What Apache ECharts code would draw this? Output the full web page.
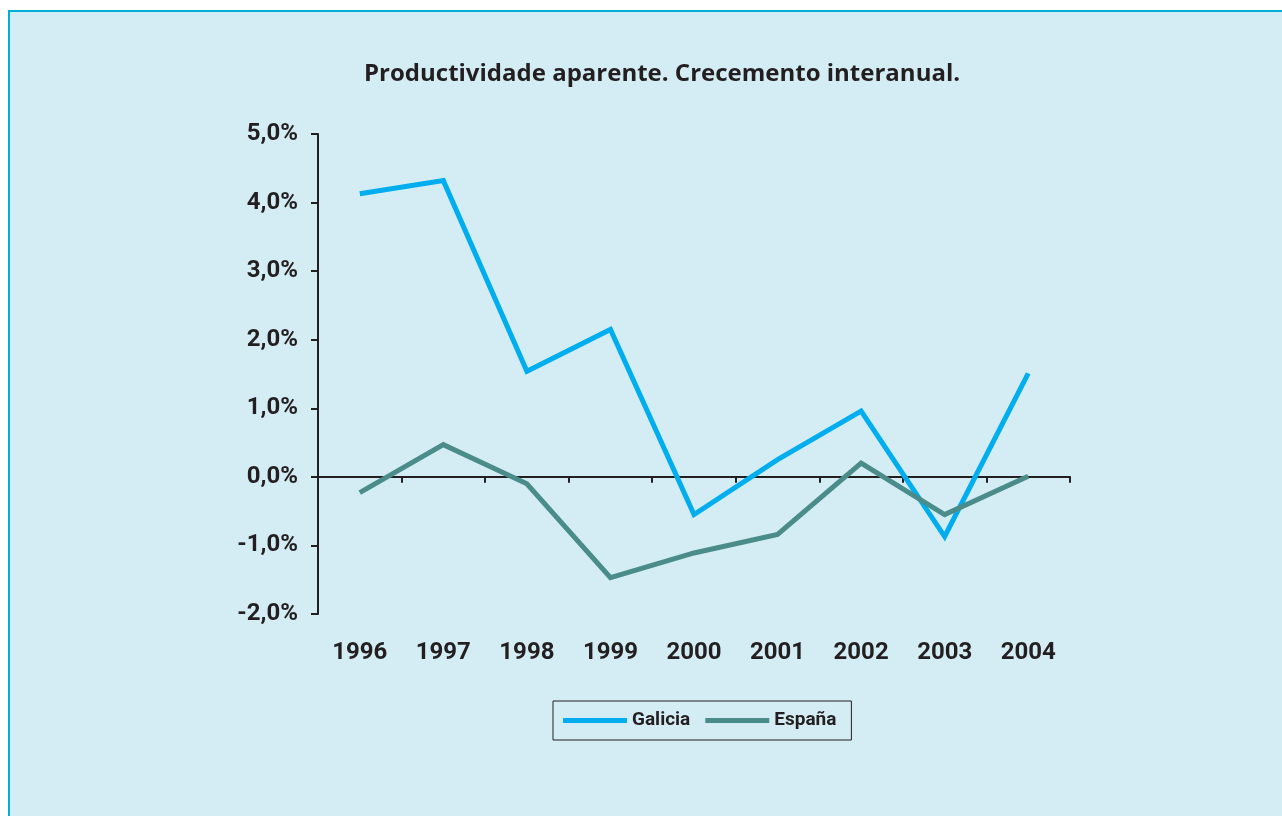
<!DOCTYPE html>
<html>
<head>
<meta charset="utf-8">
<script src="https://cdn.jsdelivr.net/npm/echarts@6/dist/echarts.min.js"></script>
<style>
html,body{margin:0;padding:0;background:#fff;}
#panel{position:absolute;left:8px;top:10px;width:1274px;height:806px;background:#d4edf4;border-top:2px solid #00aed6;border-left:2px solid #00aed6;box-sizing:border-box;}
#main{position:absolute;left:0;top:0;width:1282px;height:816px;}
</style>
</head>
<body>
<div id="panel"></div>
<div id="main"></div>
<script>
// datos
var years = ['1996','1997','1998','1999','2000','2001','2002','2003','2004'];
var galicia = [4.13, 4.32, 1.54, 2.15, -0.55, 0.25, 0.96, -0.87, 1.51];
var espana = [-0.23, 0.47, -0.10, -1.47, -1.11, -0.84, 0.20, -0.55, 0.01];

var fontFam = 'Roboto, "DejaVu Sans", sans-serif';
var dark = '#231f20';

var myChart = echarts.init(document.getElementById('main'));
var option = {
    backgroundColor: 'transparent',
    animation: false,
    title: {
        text: 'Productividade aparente. Crecemento interanual.',
        left: 359,
        top: 57,
        textStyle: { color: dark, fontSize: 24, fontWeight: 'bold', fontFamily: '"Open Sans", sans-serif' }
    },
    grid: { left: 318, right: 212, top: 134, bottom: 202 },
    legend: {
        left: 553,
        top: 701,
        padding: [10, 15, 10, 10],
        borderColor: dark,
        borderWidth: 1,
        itemWidth: 64,
        itemHeight: 5,
        itemGap: 15,
        icon: 'rect',
        textStyle: { color: dark, fontSize: 19, fontWeight: 'bold', fontFamily: fontFam },
        data: ['Galicia', 'España']
    },
    xAxis: [
        {
            type: 'category',
            data: years,
            axisLine: { show: false, onZero: false },
            axisTick: { show: false },
            axisLabel: { color: dark, fontSize: 24, fontWeight: 'bold', fontFamily: fontFam, margin: 27, interval: 0 }
        },
        {
            type: 'category',
            data: years,
            position: 'bottom',
            axisLine: { show: true, onZero: true, lineStyle: { color: dark, width: 2 } },
            axisTick: { show: true, length: 6, lineStyle: { color: dark, width: 2 } },
            axisLabel: { show: false }
        }
    ],
    yAxis: {
        type: 'value',
        min: -2,
        max: 5,
        interval: 1,
        splitLine: { show: false },
        axisLine: { show: true, onZero: false, lineStyle: { color: dark, width: 2 } },
        axisTick: { show: true, length: 7, lineStyle: { color: dark, width: 2 } },
        axisLabel: {
            color: dark, fontSize: 24, fontWeight: 'bold', fontFamily: fontFam, margin: 20,
            formatter: function (v) { return v.toFixed(1).replace('.', ',') + '%'; }
        }
    },
    series: [
        {
            name: 'Galicia',
            type: 'line',
            data: galicia,
            symbol: 'none',
            itemStyle: { color: '#00aeef' },
            lineStyle: { color: '#00aeef', width: 5, join: 'miter' }
        },
        {
            name: 'España',
            type: 'line',
            data: espana,
            symbol: 'none',
            itemStyle: { color: '#4a8c8a' },
            lineStyle: { color: '#4a8c8a', width: 5, join: 'miter' }
        }
    ]
};
myChart.setOption(option);
</script>
</body>
</html>
